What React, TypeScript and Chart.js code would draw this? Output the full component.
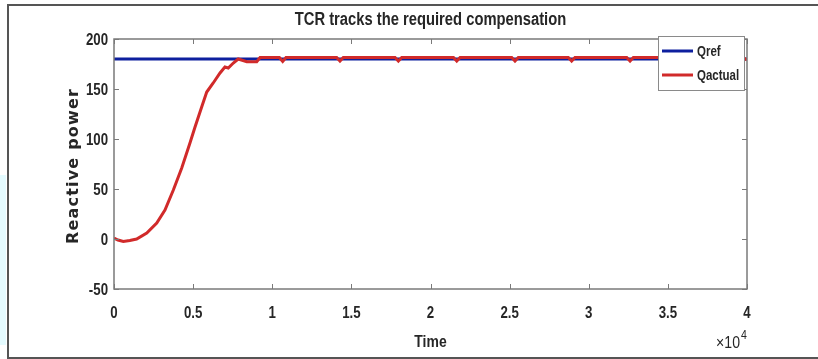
import { useEffect, useRef } from "react";
import { Chart, registerables } from "chart.js";

Chart.register(...registerables);

// Text
const chartTitle = "TCR tracks the required compensation";
const xTitle = "Time";
const yTitle = "Reactive power";
const xExponentBase = "\u00d710";
const xExponent = "4";

// Reference reactive power (constant set point)
const refLabel = "Qref";
const refTime = [0, 40000];
const refValues = [180, 180];

// Measured reactive power delivered by the TCR
const actualLabel = "Qactual";
const actualTime = [
  0, 250, 590, 1000, 1430, 2070, 2700, 3220, 3750, 4280, 4800, 5120, 5540, 5860,
  6270, 6700, 7010, 7220, 7540, 7850, 8390, 9020, 9230,
  10450, 10660, 10870,
  14070, 14280, 14490,
  17760, 17970, 18180,
  21450, 21660, 21870,
  25130, 25340, 25550,
  28710, 28920, 29130,
  32400, 32610, 32820,
  36090, 36300, 36510,
  39750, 40000,
];
const actualValues = [
  1, -1, -2.5, -1.5, 0, 6, 16, 29, 49, 71, 96, 112, 132, 147,
  156, 166, 172, 171, 176, 180, 177.3, 177.3, 181.5,
  181.5, 177.5, 181.5,
  181.5, 178, 181.5,
  181.5, 178, 181.5,
  181.5, 178, 181.5,
  181.5, 178, 181.5,
  181.5, 178, 181.5,
  181.5, 178, 181.5,
  181.5, 178, 181.5,
  181.5, 179,
];

// Axis ticks
const xTickValues = [0, 5000, 10000, 15000, 20000, 25000, 30000, 35000, 40000];
const xTickLabels = ["0", "0.5", "1", "1.5", "2", "2.5", "3", "3.5", "4"];
const yTickValues = [-50, 0, 50, 100, 150, 200];
const yTickLabels = ["-50", "0", "50", "100", "150", "200"];

const SANS = '"Liberation Sans", Arial, sans-serif';
const NARROW_X = 0.82; // horizontal squeeze giving a narrow face
const TEXT = "#262626";
const AXIS = "#7a7a7a";

function narrowText(
  ctx: CanvasRenderingContext2D,
  text: string,
  x: number,
  y: number,
  font: string,
  align: CanvasTextAlign,
  sx = NARROW_X
) {
  ctx.save();
  ctx.translate(x, y);
  ctx.scale(sx, 1);
  ctx.font = font;
  ctx.textAlign = align;
  ctx.textBaseline = "middle";
  ctx.fillText(text, 0, 0);
  ctx.restore();
}

const decorations = {
  id: "figureDecorations",
  beforeDraw(chart: any) {
    const { ctx, width, height } = chart;
    ctx.save();
    ctx.fillStyle = "#ffffff";
    ctx.fillRect(0, 0, width, height);
    // faint page tint at the left edge
    ctx.fillStyle = "#e4fbff";
    ctx.fillRect(0, 175, 6, 170);
    // figure frame
    ctx.strokeStyle = "#555555";
    ctx.lineWidth = 2;
    ctx.beginPath();
    ctx.moveTo(width + 2, 5);
    ctx.lineTo(8, 5);
    ctx.lineTo(8, 358);
    ctx.lineTo(width + 2, 358);
    ctx.stroke();
    ctx.restore();
  },
  afterDraw(chart: any) {
    const { ctx, chartArea } = chart;
    const { left, right, top, bottom } = chartArea;
    const xs = chart.scales.x;
    const ys = chart.scales.y;
    ctx.save();

    // axes box with inward ticks
    ctx.strokeStyle = AXIS;
    ctx.lineWidth = 1.5;
    ctx.strokeRect(left, top, right - left, bottom - top);
    ctx.lineWidth = 1;
    ctx.beginPath();
    const tl = 5;
    xTickValues.forEach((v) => {
      const px = Math.round(xs.getPixelForValue(v)) + 0.5;
      ctx.moveTo(px, bottom);
      ctx.lineTo(px, bottom - tl);
      ctx.moveTo(px, top);
      ctx.lineTo(px, top + tl);
    });
    yTickValues.forEach((v) => {
      const py = Math.round(ys.getPixelForValue(v)) + 0.5;
      ctx.moveTo(left, py);
      ctx.lineTo(left + tl, py);
      ctx.moveTo(right, py);
      ctx.lineTo(right - tl, py);
    });
    ctx.stroke();

    ctx.fillStyle = TEXT;
    const tickFont = `bold 17px ${SANS}`;
    xTickValues.forEach((v, i) => {
      narrowText(ctx, xTickLabels[i], xs.getPixelForValue(v), bottom + 24, tickFont, "center", 0.78);
    });
    yTickValues.forEach((v, i) => {
      narrowText(ctx, yTickLabels[i], left - 6, ys.getPixelForValue(v) + 1, tickFont, "right", 0.78);
    });

    const cx = (left + right) / 2;
    narrowText(ctx, chartTitle, cx, 20, `bold 18px ${SANS}`, "center");
    narrowText(ctx, xTitle, cx, 342, `bold 17px ${SANS}`, "center");

    // exponent label
    narrowText(ctx, xExponentBase, right - 7, 344, `16px ${SANS}`, "right", 0.88);
    narrowText(ctx, xExponent, right - 6, 336, `12px ${SANS}`, "left", 0.88);

    // y axis title
    ctx.save();
    ctx.translate(74, (top + bottom) / 2 + 2);
    ctx.rotate(-Math.PI / 2);
    ctx.textAlign = "center";
    ctx.textBaseline = "middle";
    ctx.font = `bold 16px "DejaVu Sans", sans-serif`;
    (ctx as any).letterSpacing = "1.2px";
    ctx.fillText(yTitle, 0, 0);
    ctx.restore();

    // legend
    const bx = 658, by = 36, bw = 86, bh = 54;
    ctx.fillStyle = "#ffffff";
    ctx.fillRect(bx, by, bw, bh);
    ctx.strokeStyle = "#8a8a8a";
    ctx.lineWidth = 1;
    ctx.strokeRect(bx + 0.5, by + 0.5, bw, bh);
    const rowY = [51, 75];
    [0, 1].forEach((i) => {
      const ds: any = chart.data.datasets[i];
      ctx.strokeStyle = ds.borderColor;
      ctx.lineWidth = 3;
      ctx.beginPath();
      ctx.moveTo(bx + 4, rowY[i]);
      ctx.lineTo(bx + 35, rowY[i]);
      ctx.stroke();
      ctx.fillStyle = TEXT;
      narrowText(ctx, ds.label, bx + 39, rowY[i] + 1, `bold 14px ${SANS}`, "left");
    });

    ctx.restore();
  },
};

export default function App() {
  const canvasRef = useRef<HTMLCanvasElement | null>(null);

  useEffect(() => {
    const canvas = canvasRef.current;
    if (!canvas) return;
    const chart = new Chart(canvas, {
      type: "line",
      data: {
        datasets: [
          {
            label: refLabel,
            data: refTime.map((t, i) => ({ x: t, y: refValues[i] })),
            borderColor: "#0d1f9e",
            borderWidth: 3,
            pointRadius: 0,
            tension: 0,
            order: 1,
          },
          {
            label: actualLabel,
            data: actualTime.map((t, i) => ({ x: t, y: actualValues[i] })),
            borderColor: "#d12a2a",
            borderWidth: 3,
            pointRadius: 0,
            tension: 0,
            order: 0,
          },
        ],
      },
      options: {
        responsive: false,
        animation: false,
        events: [],
        layout: { padding: { top: 39, right: 71, left: 0, bottom: 0 } },
        plugins: {
          legend: { display: false },
          title: { display: false },
          tooltip: { enabled: false },
        },
        scales: {
          x: {
            type: "linear",
            min: 0,
            max: 40000,
            afterBuildTicks: (s: any) => {
              s.ticks = xTickValues.map((v) => ({ value: v }));
            },
            afterFit: (s: any) => {
              s.height = 70;
            },
            ticks: { display: false },
            grid: { display: false, drawTicks: false },
            border: { display: false },
          },
          y: {
            type: "linear",
            min: -50,
            max: 200,
            afterBuildTicks: (s: any) => {
              s.ticks = yTickValues.map((v) => ({ value: v }));
            },
            afterFit: (s: any) => {
              s.width = 114;
            },
            ticks: { display: false },
            grid: { display: false, drawTicks: false },
            border: { display: false },
          },
        },
      },
      plugins: [decorations],
    });
    return () => chart.destroy();
  }, []);

  return (
    <div style={{ position: "absolute", left: 0, top: 0, width: 818, height: 359 }}>
      <canvas ref={canvasRef} width={818} height={359} style={{ width: 818, height: 359, display: "block" }} />
    </div>
  );
}
